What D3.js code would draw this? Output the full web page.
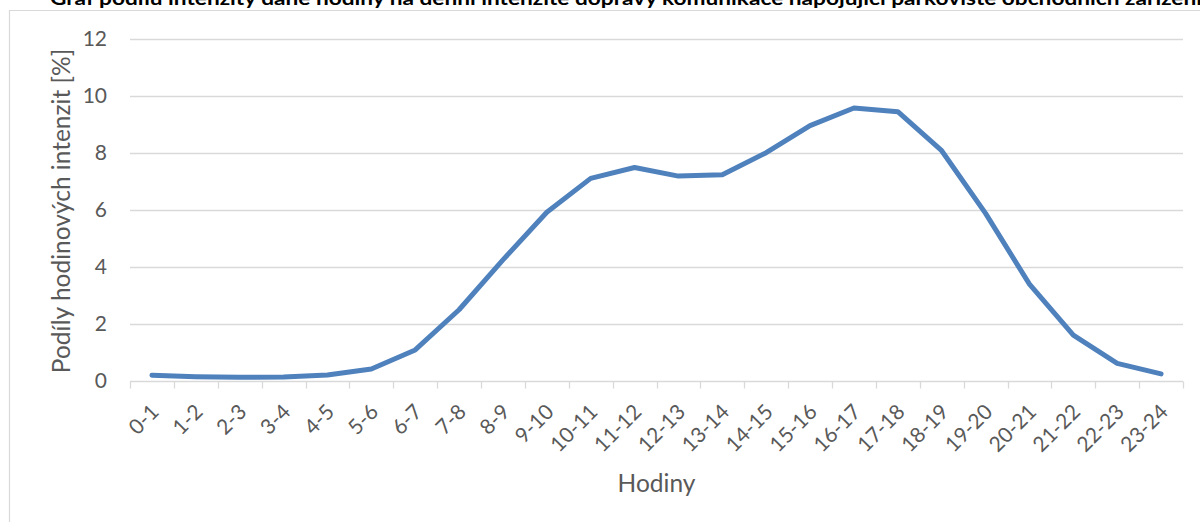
<!DOCTYPE html>
<html>
<head>
<meta charset="utf-8">
<script src="https://cdn.jsdelivr.net/npm/d3@7"></script>
<style>
  html, body { margin: 0; padding: 0; background: #fff; overflow: hidden; }
  svg { display: block; }
  text { font-family: Lato, "Open Sans", sans-serif; }
</style>
</head>
<body>
<svg id="chart" width="1200" height="522"></svg>
<script>
// Hourly intervals and the share of daily traffic in each (%)
const hours = ["0-1","1-2","2-3","3-4","4-5","5-6","6-7","7-8","8-9","9-10","10-11","11-12",
               "12-13","13-14","14-15","15-16","16-17","17-18","18-19","19-20","20-21","21-22","22-23","23-24"];
const shares = [0.20, 0.15, 0.13, 0.14, 0.21, 0.42, 1.09, 2.50, 4.25, 5.92, 7.11, 7.49,
                7.19, 7.24, 8.01, 8.96, 9.58, 9.45, 8.08, 5.88, 3.40, 1.61, 0.62, 0.25];
const yTicks = [0, 2, 4, 6, 8, 10, 12];

const chartTitle = "Graf podílu intenzity dané hodiny na denní intenzitě dopravy komunikace napojující parkoviště obchodních zařízení";
const yTitle = "Podíly hodinových intenzit [%]";
const xTitle = "Hodiny";

const svg = d3.select("#chart");
const plotLeft = 130, plotRight = 1183, plotTop = 39, plotBottom = 381;

// outer chart frame (left and top edges fall inside the page)
svg.append("path")
  .attr("d", "M9.5,522 V10.5 H1200")
  .attr("fill", "none").attr("stroke", "#d9d9d9").attr("stroke-width", 1.2);

// title (sits partly above the top edge)
svg.append("text")
  .attr("x", 50).attr("y", 4.5)
  .attr("font-size", 18).attr("font-weight", "bold").attr("fill", "#000")
  .attr("textLength", 1152).attr("lengthAdjust", "spacingAndGlyphs")
  .text(chartTitle);

const x = d3.scaleBand().domain(hours).range([plotLeft, plotRight]).paddingInner(0).paddingOuter(0);
const y = d3.scaleLinear().domain([0, 12]).range([plotBottom, plotTop]);

// horizontal gridlines
svg.append("g")
  .selectAll("line")
  .data(yTicks.filter(d => d > 0))
  .join("line")
  .attr("x1", plotLeft).attr("x2", plotRight)
  .attr("y1", d => Math.round(y(d)) + 0.5).attr("y2", d => Math.round(y(d)) + 0.5)
  .attr("stroke", "#d9d9d9").attr("stroke-width", 1.3);

// y axis labels
const yAxis = d3.axisLeft(y).tickValues(yTicks).tickSize(0).tickPadding(0);
const yg = svg.append("g").attr("transform", `translate(${plotLeft - 23},0)`).call(yAxis);
yg.select(".domain").remove();
yg.selectAll("text")
  .attr("font-size", 21).attr("fill", "#595959")
  .style("font-family", "Lato, 'Open Sans', sans-serif");

// x axis: line plus ticks at category boundaries
const xg = svg.append("g").attr("transform", `translate(0,${Math.round(plotBottom) + 0.5})`);
xg.append("line").attr("x1", plotLeft).attr("x2", plotRight).attr("stroke", "#d9d9d9").attr("stroke-width", 1.3);
const boundaries = hours.map(h => x(h)).concat([plotRight]);
xg.selectAll("line.tick")
  .data(boundaries)
  .join("line")
  .attr("class", "tick")
  .attr("x1", d => Math.round(d) + 0.5).attr("x2", d => Math.round(d) + 0.5)
  .attr("y1", 0).attr("y2", 7)
  .attr("stroke", "#d9d9d9").attr("stroke-width", 1.3);

// rotated category labels
svg.append("g")
  .selectAll("text")
  .data(hours)
  .join("text")
  .attr("transform", d => `translate(${x(d) + x.bandwidth() / 2 + 3},${plotBottom + 27}) rotate(-45)`)
  .attr("text-anchor", "end")
  .attr("dy", "0.35em")
  .attr("font-size", 21).attr("fill", "#595959")
  .text(d => d);

// axis titles
svg.append("text")
  .attr("transform", `translate(70,${(plotBottom + plotTop) / 2 + 1}) rotate(-90)`)
  .attr("text-anchor", "middle")
  .attr("font-size", 24.5).attr("fill", "#595959")
  .text(yTitle);

svg.append("text")
  .attr("x", (plotLeft + plotRight) / 2).attr("y", 492)
  .attr("text-anchor", "middle")
  .attr("font-size", 24.5).attr("fill", "#595959")
  .text(xTitle);

// the series line
const line = d3.line()
  .x((d, i) => x(hours[i]) + x.bandwidth() / 2)
  .y(d => y(d));

svg.append("path")
  .datum(shares)
  .attr("d", line)
  .attr("fill", "none")
  .attr("stroke", "#4f81bd")
  .attr("stroke-width", 5)
  .attr("stroke-linejoin", "round")
  .attr("stroke-linecap", "round");
</script>
</body>
</html>
